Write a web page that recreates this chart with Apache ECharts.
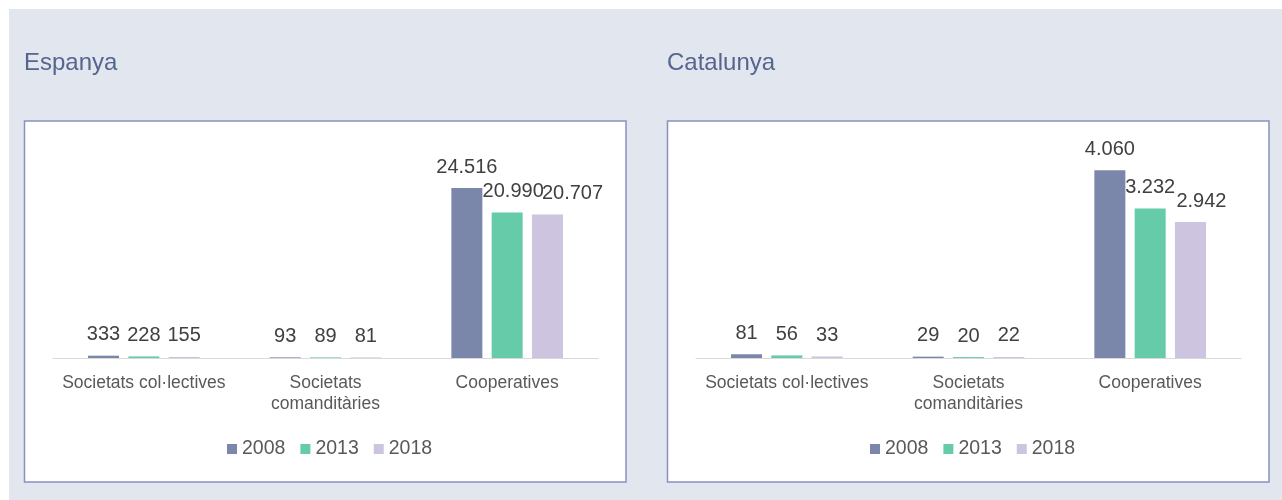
<!DOCTYPE html>
<html lang="ca">
<head>
    <meta charset="UTF-8">
    <title>Societats per tipus</title>
    <style>
        html, body { margin: 0; padding: 0; background: #ffffff; }
        #main { width: 1282px; height: 500px; }
    </style>
</head>
<body>
<div id="main"></div>

<script type="text/javascript" src="https://cdn.jsdelivr.net/npm/echarts@6/dist/echarts.min.js"></script>
<script type="text/javascript">

	// dades
	var categories = ['Societats col·lectives', 'Societats comanditàries', 'Cooperatives'];
	var years = ['2008', '2013', '2018'];

	var espanya2008 = [333, 93, 24516];
	var espanya2013 = [228, 89, 20990];
	var espanya2018 = [155, 81, 20707];

	var catalunya2008 = [81, 29, 4060];
	var catalunya2013 = [56, 20, 3232];
	var catalunya2018 = [33, 22, 2942];

	var colors = ['#7a87aa', '#66cba9', '#cdc4e0'];
	var font = 'Liberation Sans, Arial, sans-serif';

	function fmt(v) {
		// separador de milers amb punt
		return String(v).replace(/\B(?=(\d{3})+(?!\d))/g, '.');
	}

	// shift: desplacament horitzontal de l'etiqueta de Cooperatives perque no es trepitgi
	function makeSeries(data, idx, axis, shift) {
		var items = data.map(function (v, i) {
			if (i === 2 && shift) {
				return { value: v, label: { offset: [shift, 0] } };
			}
			return v;
		});
		return {
			name: years[idx],
			type: 'bar',
			xAxisIndex: axis,
			yAxisIndex: axis,
			data: items,
			barWidth: 31,
			barGap: '30%',
			itemStyle: { color: colors[idx] },
			label: {
				show: true,
				position: 'top',
				distance: 11,
				color: '#404040',
				fontFamily: font,
				fontSize: 20,
				lineHeight: 20,
				formatter: function (p) { return fmt(p.value); }
			}
		};
	}

	function xAxis(grid) {
		return {
			type: 'category',
			gridIndex: grid,
			data: categories,
			axisLine: { lineStyle: { color: '#d9d9d9', width: 1 } },
			axisTick: { show: false },
			axisLabel: {
				color: '#595959',
				fontFamily: font,
				fontSize: 17.5,
				lineHeight: 21,
				margin: 15,
				interval: 0,
				formatter: function (v) {
					// el nom llarg es parteix en dues linies com a l'original
					return v.length > 22 ? v.replace(' ', '\n') : v;
				}
			}
		};
	}

	function yAxis(grid, max) {
		return {
			type: 'value',
			gridIndex: grid,
			min: 0,
			max: max,
			show: false,
			splitLine: { show: false }
		};
	}

	function legend(left) {
		return {
			data: years,
			left: left,
			top: 439,
			icon: 'rect',
			itemWidth: 10,
			itemHeight: 10,
			itemGap: 15,
			padding: 0,
			textStyle: { color: '#595959', fontFamily: font, fontSize: 19.5 }
		};
	}

	var dom = document.getElementById('main');
	var myChart = echarts.init(dom, null, { renderer: 'canvas' });

	var option = {
		animation: false,
		graphic: [
			{ type: 'rect', z: -10, shape: { x: 9, y: 9, width: 1273, height: 491 }, style: { fill: '#e2e6ef' } },
			{ type: 'rect', z: -9, shape: { x: 24.5, y: 121, width: 601.5, height: 361 }, style: { fill: '#ffffff', stroke: '#8792bb', lineWidth: 1.5 } },
			{ type: 'rect', z: -9, shape: { x: 667.5, y: 121, width: 601.5, height: 361 }, style: { fill: '#ffffff', stroke: '#8792bb', lineWidth: 1.5 } }
		],
		title: [
			{ text: 'Espanya', left: 24, top: 51, padding: 0, textStyle: { color: '#56658e', fontFamily: font, fontSize: 24, fontWeight: 'normal' } },
			{ text: 'Catalunya', left: 667, top: 51, padding: 0, textStyle: { color: '#56658e', fontFamily: font, fontSize: 24, fontWeight: 'normal' } }
		],
		legend: [legend(227), legend(870)],
		grid: [
			{ left: 53, right: 684, top: 150, bottom: 142 },
			{ left: 696, right: 41, top: 150, bottom: 142 }
		],
		xAxis: [xAxis(0), xAxis(1)],
		yAxis: [yAxis(0, 30000), yAxis(1, 4500)],
		series: [
			makeSeries(espanya2008, 0, 0),
			makeSeries(espanya2013, 1, 0, 6),
			makeSeries(espanya2018, 2, 0, 25),
			makeSeries(catalunya2008, 0, 1),
			makeSeries(catalunya2013, 1, 1),
			makeSeries(catalunya2018, 2, 1, 11)
		]
	};

	if (option && typeof option === 'object') {
		myChart.setOption(option, true);
	}
</script>
</body>
</html>
